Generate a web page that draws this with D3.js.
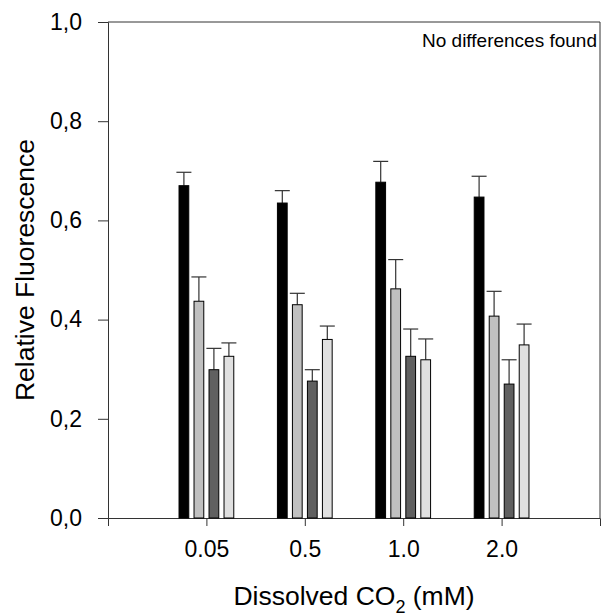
<!DOCTYPE html>
<html><head><meta charset="utf-8">
<script src="https://cdn.jsdelivr.net/npm/d3@7"></script>
<style>body{margin:0;background:#fff}svg{display:block}text{font-family:"Liberation Sans",Arial,sans-serif;fill:#000}</style>
</head><body>
<svg id="c" width="605" height="616"></svg>
<script>
const categories = ["0.05", "0.5", "1.0", "2.0"];
const seriesNames = ["A", "B", "C", "D"];
const seriesColors = ["#000000", "#c0c0c0", "#606060", "#e0e0e0"];
const means = [
  [0.670, 0.437, 0.299, 0.326],
  [0.635, 0.430, 0.276, 0.360],
  [0.677, 0.462, 0.326, 0.319],
  [0.647, 0.407, 0.270, 0.349]
];
const errs = [
  [0.027, 0.049, 0.043, 0.027],
  [0.025, 0.023, 0.023, 0.027],
  [0.042, 0.059, 0.055, 0.042],
  [0.042, 0.050, 0.049, 0.042]
];
const yTicks = [0, 0.2, 0.4, 0.6, 0.8, 1.0];

const svg = d3.select("#c");
const L = 108, R = 600, T = 22, B = 518;
const x = d3.scaleLinear().domain([0, categories.length + 1]).range([L, R]);
const y = d3.scaleLinear().domain([0, 1]).range([B, T]);
const inner = d3.scaleBand().domain(seriesNames).range([-30, 30]).paddingInner(0.35).paddingOuter(0.175);

// frame
svg.append("path").attr("d", `M${L},${T}H${R}V${B}`).attr("fill", "none").attr("stroke", "#333").attr("stroke-width", 1);

// y axis
const ya = svg.append("g").attr("transform", `translate(${L},0)`)
  .call(d3.axisLeft(y).tickValues(yTicks).tickSize(10).tickPadding(16).tickFormat(d => d3.format(".1f")(d).replace(".", ",")));
ya.select(".domain").attr("stroke", "#333");
ya.selectAll(".tick line").attr("stroke", "#333");
ya.selectAll("text").style("font-size", "23px").attr("fill", "#000");

// x axis
const xa = svg.append("g").attr("transform", `translate(0,${B})`)
  .call(d3.axisBottom(x).tickValues(d3.range(1, categories.length + 1)).tickSize(8).tickPadding(15).tickFormat(d => categories[d - 1]));
xa.select(".domain").attr("stroke", "#333");
xa.selectAll(".tick line").attr("stroke", "#333");
xa.selectAll("text").style("font-size", "23px").attr("fill", "#000");

// bars
categories.forEach((c, i) => {
  const cx = x(i + 1);
  const g = svg.append("g");
  seriesNames.forEach((s, j) => {
    const bx = cx + inner(s);
    const bw = inner.bandwidth();
    const top = y(means[i][j]);
    const et = y(means[i][j] + errs[i][j]);
    const mid = bx + bw / 2;
    g.append("line").attr("x1", mid).attr("x2", mid).attr("y1", top).attr("y2", et).attr("stroke", "#333").attr("stroke-width", 1.2);
    g.append("line").attr("x1", mid - 7.5).attr("x2", mid + 7.5).attr("y1", et).attr("y2", et).attr("stroke", "#333").attr("stroke-width", 1.2);
    g.append("rect").attr("x", bx).attr("y", top).attr("width", bw).attr("height", B - top)
      .attr("fill", seriesColors[j]).attr("stroke", "#000").attr("stroke-width", 1);
  });
});

// annotations
svg.append("text").attr("x", 597).attr("y", 47).attr("text-anchor", "end").style("font-size", "19px").text("No differences found");

const xt = svg.append("text").attr("x", (L + R) / 2).attr("y", 605).attr("text-anchor", "middle").style("font-size", "26.5px");
xt.append("tspan").text("Dissolved CO");
xt.append("tspan").attr("dy", 8).style("font-size", "18px").text("2");
xt.append("tspan").attr("dy", -8).text(" (mM)");

svg.append("text").attr("transform", `translate(34,${(T + B) / 2}) rotate(-90)`).attr("text-anchor", "middle").style("font-size", "26.5px").text("Relative Fluorescence");
</script>
</body></html>
